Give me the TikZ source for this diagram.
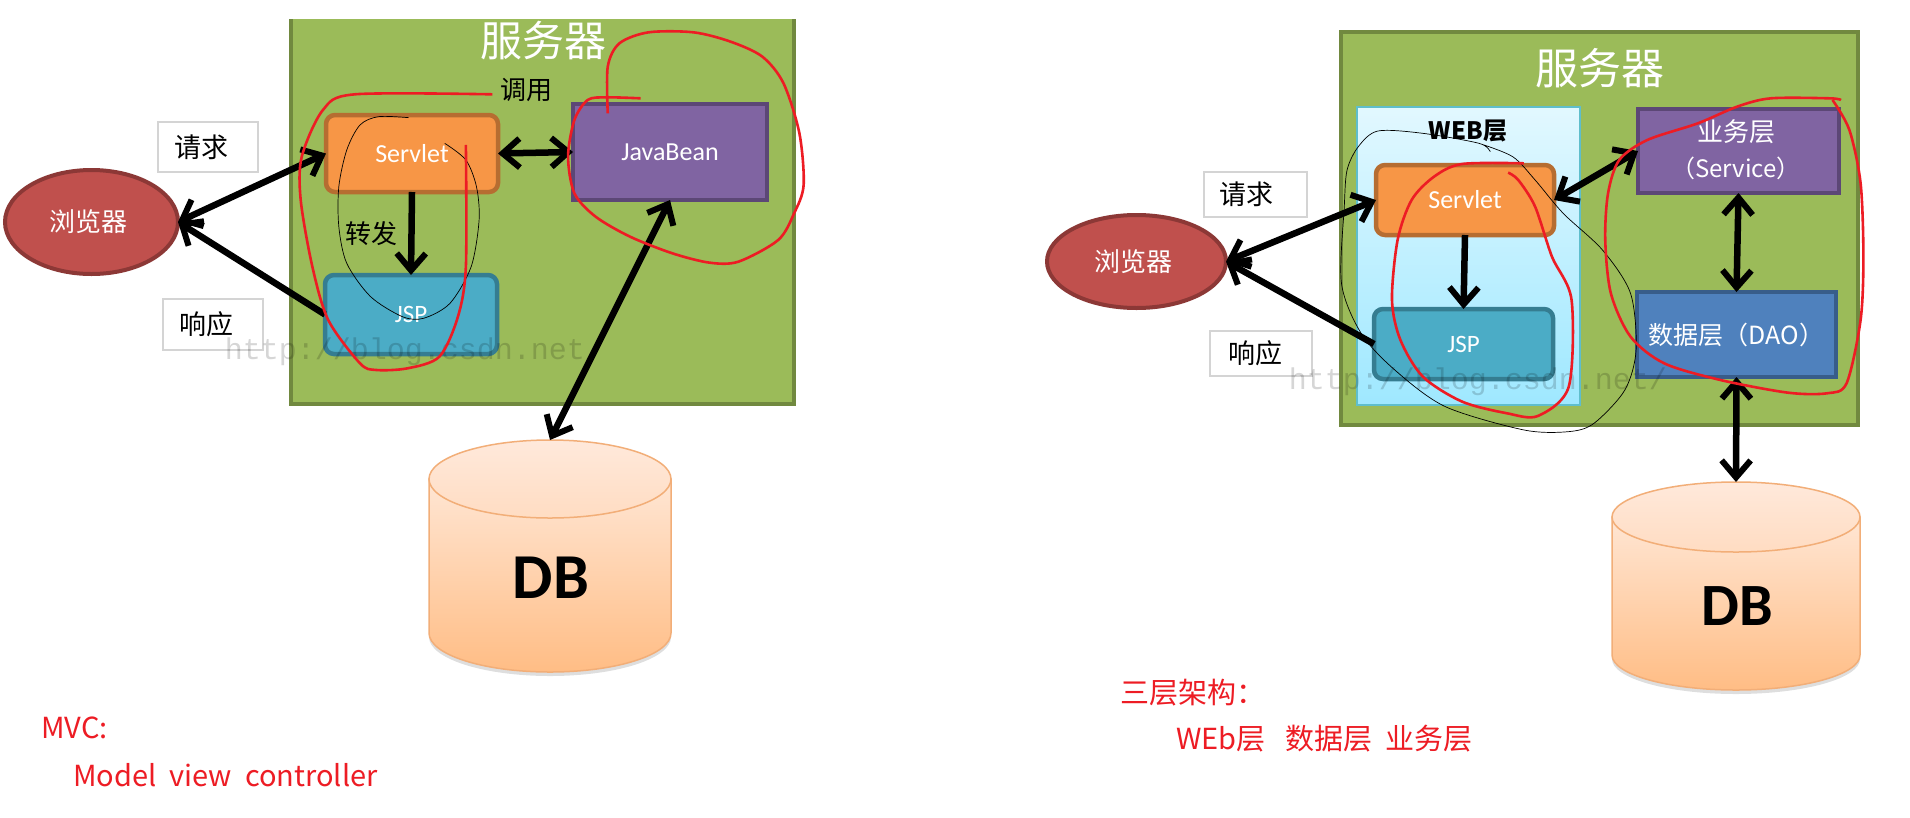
\documentclass[tikz,border=0pt]{standalone}
\usepackage{fontspec}
\usetikzlibrary{arrows.meta,shapes.geometric}
\setmainfont{Carlito}
\newfontfamily\cjkf{Noto Sans CJK SC}
\newfontfamily\wmf{Liberation Mono}
\newcommand{\fs}[1]{\fontsize{#1}{#1}\selectfont}
\definecolor{srvfill}{HTML}{9BBB59}
\definecolor{srvedge}{HTML}{71893F}
\definecolor{orfill}{HTML}{F79646}
\definecolor{oredge}{HTML}{B66D31}
\definecolor{pufill}{HTML}{8064A2}
\definecolor{puedge}{HTML}{5C4776}
\definecolor{tefill}{HTML}{4BACC6}
\definecolor{teedge}{HTML}{357D91}
\definecolor{blfill}{HTML}{4F81BD}
\definecolor{bledge}{HTML}{385D8A}
\definecolor{refill}{HTML}{C0504D}
\definecolor{reedge}{HTML}{8C3836}
\definecolor{dbedge}{HTML}{F2AE78}
\definecolor{ink}{HTML}{ED1C24}
\definecolor{dbtop}{HTML}{FFE6D4}
\definecolor{dbbot}{HTML}{FFBD85}
\definecolor{captop}{HTML}{FFE9DB}
\definecolor{capbot}{HTML}{FFDCC2}
\definecolor{webtop}{HTML}{E2F8FF}
\definecolor{webbot}{HTML}{9FE8FF}
\tikzset{
  x=1pt,y=-1pt,
  srvbox/.style={fill=srvfill,inner sep=0pt,outer sep=0pt},
  srvline/.style={draw=srvedge,line width=4pt},
  roundbox/.style={rectangle,rounded corners=9pt,line width=4.5pt,inner sep=0pt,outer sep=0pt,text=white,font=\fs{26}},
  servbox/.style={roundbox,draw=oredge,fill=orfill},
  jspbox/.style={roundbox,draw=teedge,fill=tefill,font=\fs{25}},
  flatbox/.style={rectangle,line width=4pt,inner sep=0pt,outer sep=0pt,text=white,font=\fs{26}},
  beanbox/.style={flatbox,draw=puedge,fill=pufill},
  daobox/.style={flatbox,draw=bledge,fill=blfill},
  webbox/.style={rectangle,inner sep=0pt,outer sep=0pt},
  browser/.style={ellipse,draw=reedge,fill=refill,line width=4pt,inner sep=0pt,outer sep=0pt,text=white,font=\cjkf\fs{26}},
  tagbox/.style={rectangle,draw=black!17,fill=white,line width=1.5pt,inner sep=0pt,outer sep=0pt,font=\cjkf\fs{27}},
  title/.style={text=white,inner sep=0pt,font=\cjkf\fs{42}},
  plain/.style={text=black,inner sep=0pt,font=\cjkf\fs{26}},
  note/.style={text=ink,anchor=west,inner sep=0pt,font=\cjkf\fs{29}},
  dbtext/.style={text=black,inner sep=0pt,font=\bfseries\fs{64}},
  dbhull/.style={rectangle,inner sep=0pt,outer sep=0pt},
  dbbody/.style={draw=dbedge,line width=1.5pt,top color=dbtop,bottom color=dbbot},
  dbcap/.style={draw=dbedge,line width=1.5pt,top color=captop,bottom color=capbot},
  dbshade/.style={fill=black,opacity=.13},
  link/.style={line width=6.5pt,black},
  both/.style={link,{Straight Barb[length=17pt,width=29pt,line width=6pt]}-{Straight Barb[length=17pt,width=29pt,line width=6pt]}},
  one/.style={link,-{Straight Barb[length=17pt,width=29pt,line width=6pt]}},
  redpen/.style={draw=ink,line width=2.6pt,line join=round},
  blackpen/.style={draw=black,line width=.7pt},
  mark wm/.style={text=black,opacity=.16,inner sep=0pt,font=\wmf\fs{30}}
}
\begin{document}
\begin{tikzpicture}
\useasboundingbox (0,0) rectangle (1910,817);
\fill[white] (0,0) rectangle (1910,817);

% ---------- left panel ----------
\node[srvbox,minimum width=503pt,minimum height=385pt] (srvL) at (542.5,211.5) {};
\draw[srvline] (srvL.north west) -- (srvL.south west) -- (srvL.south east) -- (srvL.north east);
\node[title] (titleL) at (543,41) {服务器};
\node[plain] (callL) at (526,90) {调用};
\node[servbox,minimum width=172pt,minimum height=77pt] (servL) at (412,153.5) {Servlet};
\node[beanbox,minimum width=194pt,minimum height=96pt] (beanL) at (670,152) {JavaBean};
\node[jspbox,minimum width=172pt,minimum height=79pt] (jspL) at (411,314.5) {JSP};
\node[browser,minimum width=173pt,minimum height=104pt] (brL) at (91.5,222) {\hspace*{-6pt}浏览器};
\node[tagbox,minimum width=100pt,minimum height=50pt] (reqL) at (208,147) {\hspace*{-14pt}请求};
\node[tagbox,minimum width=100pt,minimum height=51pt] (resL) at (213,324.5) {\hspace*{-14pt}响应};
\node[plain] (fwdL) at (371,234) {转发};

\path[dbshade] (429,485) -- (429,637) .. controls (429,658.5) and (483,676) .. (550,676) .. controls (617,676) and (671,658.5) .. (671,637) -- (671,485) -- cycle;
\path[dbbody] (429,479) -- (429,633) .. controls (429,654.5) and (483,672) .. (550,672) .. controls (617,672) and (671,654.5) .. (671,633) -- (671,479) -- cycle;
\path[dbcap] (550,479) ellipse [x radius=121, y radius=39];
\node[dbhull,minimum width=242pt,minimum height=232pt] (dbL) at (550,556) {};
\node[dbtext] (dbtL) at (551,578) {DB};

\draw[both] (brL.east) -- (servL.west);
\draw[one] (jspL.west) -- (brL.east);
\draw[one] (servL.south) -- (jspL.north);
\draw[both] (servL.east) -- (beanL.west);
\draw[both] (beanL.south) -- (dbL.north);

\node[mark wm] (wmL) at (414,352) {http://blog.csdn.net/};
\node[note] (mvc) at (41,728) {MVC:};
\node[note] (mvc2) at (73,775) {Model\ \ view\ \ controller};

\begin{scope}[xscale=0.5294,yscale=0.3333]
\draw[blackpen] plot[smooth] coordinates {(772,353) (715,350) (680,375) (655,450) (640,560) (640,680) (655,790) (700,890) (760,950) (800,955) (850,910) (890,800) (905,660) (900,560) (880,480) (840,430)};
\draw[redpen] plot[smooth,tension=.5] coordinates {(930,283) (670,283) (610,330) (570,470) (568,600) (590,800) (620,960) (680,1090) (710,1110) (770,1105) (830,1070) (865,950) (880,800) (880,435)};
\draw[redpen] plot[smooth,tension=.5] coordinates {(1148,340) (1148,200) (1170,130) (1225,97) (1310,97) (1380,125) (1440,170) (1480,250) (1510,400) (1518,555) (1500,640) (1470,720) (1395,785) (1340,788) (1270,760) (1190,710) (1125,650) (1085,580) (1073,470) (1085,360) (1110,300) (1145,292) (1210,295)};
\end{scope}

% ---------- right panel ----------
\node[srvbox,draw=srvedge,line width=4pt,minimum width=517pt,minimum height=393pt] (srvR) at (1599.5,228.5) {};
\node[title,font=\cjkf\fs{43}] (titleR) at (1600,68) {服务器};
\node[webbox,draw=webbot!60!teal,line width=2pt,top color=webtop,bottom color=webbot,minimum width=223pt,minimum height=298pt] (webR) at (1468,255.5) {};
\node[plain,font=\cjkf\bfseries\fs{24}] (webT) at (1468,131) {WEB层};
\node[servbox,minimum width=178pt,minimum height=70pt] (servR) at (1465,200) {Servlet};
\node[jspbox,minimum width=179pt,minimum height=70pt] (jspR) at (1463.5,344) {JSP};
\node[beanbox,minimum width=201pt,minimum height=84pt] (svcR) at (1738.5,151) {};
\node[text=white,inner sep=0pt,font=\cjkf\fs{26}] (svcT1) at (1736,132) {业务层};
\node[text=white,inner sep=0pt,font=\cjkf\fs{24}] (svcT2) at (1736,168) {（Service）};
\node[daobox,minimum width=199pt,minimum height=85pt,font=\cjkf\fs{25}] (daoR) at (1736.5,334.5) {数据层（DAO）};
\node[browser,minimum width=179pt,minimum height=93pt] (brR) at (1136.5,261.5) {\hspace*{-6pt}浏览器};
\node[tagbox,minimum width=103pt,minimum height=45pt] (reqR) at (1255.5,194.5) {\hspace*{-18pt}请求};
\node[tagbox,minimum width=102pt,minimum height=45pt] (resR) at (1261,353.5) {\hspace*{-12pt}响应};

\path[dbshade] (1612,523) -- (1612,659) .. controls (1612,678.3) and (1667.5,694) .. (1736,694) .. controls (1804.5,694) and (1860,678.3) .. (1860,659) -- (1860,523) -- cycle;
\path[dbbody] (1612,517) -- (1612,655) .. controls (1612,674.3) and (1667.5,690) .. (1736,690) .. controls (1804.5,690) and (1860,674.3) .. (1860,655) -- (1860,517) -- cycle;
\path[dbcap] (1736,517) ellipse [x radius=124, y radius=35];
\node[dbhull,minimum width=248pt,minimum height=208pt] (dbR) at (1736,586) {};
\node[dbtext,font=\bfseries\fs{60}] (dbtR) at (1737,606) {DB};

\draw[both] (brR.east) -- (servR.west);
\draw[one] (jspR.west) -- (brR.east);
\draw[one] (servR.south) -- (jspR.north);
\draw[both] (servR.east) -- (svcR.west);
\draw[both] (svcR.south) -- (daoR.north);
\draw[both] (daoR.south) -- (dbR.north);

\node[mark wm] (wmR) at (1478,382) {http://blog.csdn.net/};
\node[note] (tier) at (1120,693) {三层架构：};
\node[note] (tier2) at (1176,739) {WEb层\ \ \ 数据层\ \ 业务层};

\begin{scope}[shift={(1030,0)},xscale=0.5612,yscale=0.3333]
\draw[blackpen] plot[smooth] coordinates {(820,455) (800,430) (700,400) (620,393) (585,440) (565,510) (560,620) (555,850) (590,1000) (650,1110) (740,1220) (880,1290) (960,1295) (1005,1270) (1060,1170) (1080,1050) (1070,880) (1020,750) (950,640) (900,540) (860,470) (800,430)};
\draw[redpen] plot[smooth,tension=.5] coordinates {(880,490) (770,492) (720,530) (680,600) (655,720) (645,900) (660,1020) (700,1130) (770,1205) (850,1240) (905,1248) (960,1160) (965,900) (930,770) (900,620) (870,540) (852,518)};
\draw[redpen] plot[smooth,tension=.5] coordinates {(1445,300) (1425,295) (1320,295) (1260,320) (1190,370) (1100,420) (1050,480) (1030,580) (1025,720) (1035,880) (1070,1010) (1130,1090) (1230,1140) (1350,1178) (1420,1180) (1455,1150) (1480,960) (1485,770) (1480,550) (1460,390) (1430,300)};
\end{scope}
\end{tikzpicture}
\end{document}
